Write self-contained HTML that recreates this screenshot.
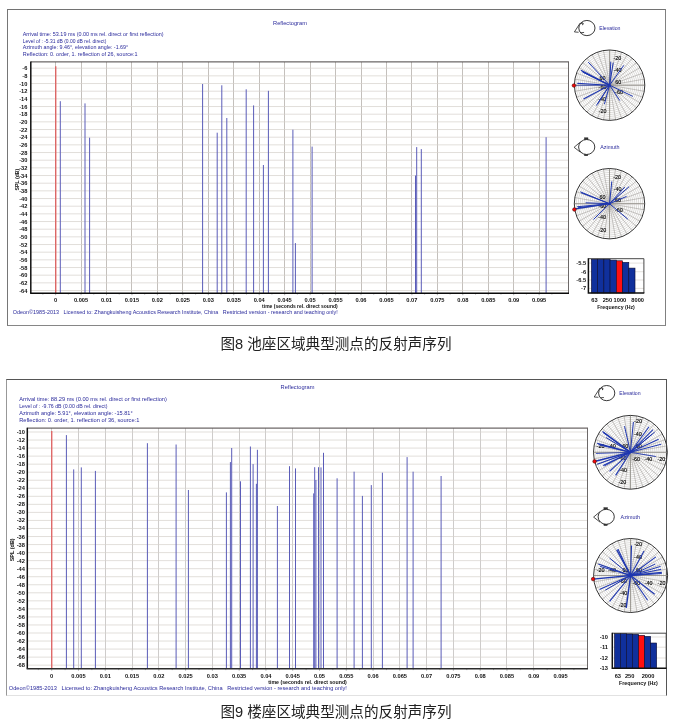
<!DOCTYPE html><html><head><meta charset="utf-8"><title>Reflectogram</title><style>
html,body{margin:0;padding:0;background:#fff;}body{width:674px;height:725px;overflow:hidden;position:relative;font-family:"Liberation Sans","Noto Sans CJK SC",sans-serif;}
svg{position:absolute;left:0;top:0;display:block}
svg text{font-family:"Liberation Sans","Noto Sans CJK SC",sans-serif}
.cap{position:absolute;left:-1px;width:674px;text-align:center;font-size:14.6px;color:#222;white-space:nowrap;line-height:18px}
.t{fill:#2b2b9c;font-size:5.9px}
.ax{fill:#111;font-size:5.7px;font-weight:bold}
.pl{fill:#000;font-size:5.4px;stroke:#000;stroke-width:0.12px}
</style></head><body>
<svg width="674" height="725" viewBox="0 0 674 725">
<path d="M7.0 9.5H666.0" stroke="#727272" stroke-width="1"/>
<path d="M665.5 9.5V326.0" stroke="#808080" stroke-width="1"/>
<path d="M7.0 325.5H665.5" stroke="#868686" stroke-width="1"/>
<path d="M7.5 9.5V325.5" stroke="#767676" stroke-width="1"/>
<path d="M55.5 62V293M81.5 62V293M106.5 62V293M131.5 62V293M157.5 62V293M182.5 62V293M208.5 62V293M233.5 62V293M259.5 62V293M284.5 62V293M310.5 62V293M335.5 62V293M361.5 62V293M386.5 62V293M411.5 62V293M437.5 62V293M462.5 62V293M488.5 62V293M513.5 62V293M539.5 62V293" stroke="#c4c0bc" stroke-width="1" fill="none"/>
<path d="M30.8 68.20H568.5M30.8 75.87H568.5M30.8 83.53H568.5M30.8 91.20H568.5M30.8 98.86H568.5M30.8 106.53H568.5M30.8 114.20H568.5M30.8 121.86H568.5M30.8 129.53H568.5M30.8 137.19H568.5M30.8 144.86H568.5M30.8 152.53H568.5M30.8 160.19H568.5M30.8 167.86H568.5M30.8 175.52H568.5M30.8 183.19H568.5M30.8 190.86H568.5M30.8 198.52H568.5M30.8 206.19H568.5M30.8 213.85H568.5M30.8 221.52H568.5M30.8 229.19H568.5M30.8 236.85H568.5M30.8 244.52H568.5M30.8 252.18H568.5M30.8 259.85H568.5M30.8 267.52H568.5M30.8 275.18H568.5M30.8 282.85H568.5M30.8 290.51H568.5" stroke="#d6d1cb" stroke-width="0.7" fill="none"/>
<line x1="60.3" y1="101.2" x2="60.3" y2="293" stroke="#5a5cb8" stroke-width="1"/>
<line x1="85.0" y1="103.4" x2="85.0" y2="293" stroke="#5a5cb8" stroke-width="1"/>
<line x1="89.6" y1="137.7" x2="89.6" y2="293" stroke="#5a5cb8" stroke-width="1"/>
<line x1="202.6" y1="84.0" x2="202.6" y2="293" stroke="#5a5cb8" stroke-width="1"/>
<line x1="217.2" y1="132.7" x2="217.2" y2="293" stroke="#5a5cb8" stroke-width="1"/>
<line x1="221.8" y1="85.3" x2="221.8" y2="293" stroke="#5a5cb8" stroke-width="1"/>
<line x1="226.8" y1="118.0" x2="226.8" y2="293" stroke="#5a5cb8" stroke-width="1"/>
<line x1="246.2" y1="89.3" x2="246.2" y2="293" stroke="#5a5cb8" stroke-width="1"/>
<line x1="253.6" y1="105.4" x2="253.6" y2="293" stroke="#5a5cb8" stroke-width="1"/>
<line x1="263.4" y1="165" x2="263.4" y2="293" stroke="#5a5cb8" stroke-width="1"/>
<line x1="268.4" y1="90.8" x2="268.4" y2="293" stroke="#5a5cb8" stroke-width="1"/>
<line x1="292.9" y1="129.7" x2="292.9" y2="293" stroke="#5a5cb8" stroke-width="1"/>
<line x1="295.4" y1="243.1" x2="295.4" y2="293" stroke="#5a5cb8" stroke-width="1"/>
<line x1="312.1" y1="146.6" x2="312.1" y2="293" stroke="#5a5cb8" stroke-width="1"/>
<line x1="415.5" y1="175.5" x2="415.5" y2="293" stroke="#5a5cb8" stroke-width="1"/>
<line x1="416.7" y1="147.1" x2="416.7" y2="293" stroke="#5a5cb8" stroke-width="1"/>
<line x1="421.3" y1="149.1" x2="421.3" y2="293" stroke="#5a5cb8" stroke-width="1"/>
<line x1="546.1" y1="137.2" x2="546.1" y2="293" stroke="#5a5cb8" stroke-width="1"/>
<line x1="55.8" y1="66.3" x2="55.8" y2="293" stroke="#e24a4a" stroke-width="1.1"/>
<path d="M30.8 61.9H569.0" stroke="#484242" stroke-width="1" fill="none"/>
<path d="M568.5 62V293" stroke="#5c5858" stroke-width="0.9" fill="none"/>
<path d="M30.8 61.5V293" stroke="#111" stroke-width="1.5" fill="none"/>
<path d="M42.88 293.6v1.0M55.60 293.6v1.6M68.33 293.6v1.0M81.05 293.6v1.6M93.78 293.6v1.0M106.50 293.6v1.6M119.22 293.6v1.0M131.95 293.6v1.6M144.68 293.6v1.0M157.40 293.6v1.6M170.12 293.6v1.0M182.85 293.6v1.6M195.57 293.6v1.0M208.30 293.6v1.6M221.02 293.6v1.0M233.75 293.6v1.6M246.47 293.6v1.0M259.20 293.6v1.6M271.93 293.6v1.0M284.65 293.6v1.6M297.38 293.6v1.0M310.10 293.6v1.6M322.82 293.6v1.0M335.55 293.6v1.6M348.28 293.6v1.0M361.00 293.6v1.6M373.73 293.6v1.0M386.45 293.6v1.6M399.18 293.6v1.0M411.90 293.6v1.6M424.62 293.6v1.0M437.35 293.6v1.6M450.07 293.6v1.0M462.80 293.6v1.6M475.53 293.6v1.0M488.25 293.6v1.6M500.98 293.6v1.0M513.70 293.6v1.6M526.42 293.6v1.0M539.15 293.6v1.6M551.88 293.6v1.0" stroke="#777" stroke-width="0.6" fill="none"/>
<path d="M30.1 293.25H569.0" stroke="#0a0a0a" stroke-width="1.4" fill="none"/>
<text class="ax" x="27.4" y="70.20" text-anchor="end">-6</text>
<text class="ax" x="27.4" y="77.87" text-anchor="end">-8</text>
<text class="ax" x="27.4" y="85.53" text-anchor="end">-10</text>
<text class="ax" x="27.4" y="93.20" text-anchor="end">-12</text>
<text class="ax" x="27.4" y="100.86" text-anchor="end">-14</text>
<text class="ax" x="27.4" y="108.53" text-anchor="end">-16</text>
<text class="ax" x="27.4" y="116.20" text-anchor="end">-18</text>
<text class="ax" x="27.4" y="123.86" text-anchor="end">-20</text>
<text class="ax" x="27.4" y="131.53" text-anchor="end">-22</text>
<text class="ax" x="27.4" y="139.19" text-anchor="end">-24</text>
<text class="ax" x="27.4" y="146.86" text-anchor="end">-26</text>
<text class="ax" x="27.4" y="154.53" text-anchor="end">-28</text>
<text class="ax" x="27.4" y="162.19" text-anchor="end">-30</text>
<text class="ax" x="27.4" y="169.86" text-anchor="end">-32</text>
<text class="ax" x="27.4" y="177.52" text-anchor="end">-34</text>
<text class="ax" x="27.4" y="185.19" text-anchor="end">-36</text>
<text class="ax" x="27.4" y="192.86" text-anchor="end">-38</text>
<text class="ax" x="27.4" y="200.52" text-anchor="end">-40</text>
<text class="ax" x="27.4" y="208.19" text-anchor="end">-42</text>
<text class="ax" x="27.4" y="215.85" text-anchor="end">-44</text>
<text class="ax" x="27.4" y="223.52" text-anchor="end">-46</text>
<text class="ax" x="27.4" y="231.19" text-anchor="end">-48</text>
<text class="ax" x="27.4" y="238.85" text-anchor="end">-50</text>
<text class="ax" x="27.4" y="246.52" text-anchor="end">-52</text>
<text class="ax" x="27.4" y="254.18" text-anchor="end">-54</text>
<text class="ax" x="27.4" y="261.85" text-anchor="end">-56</text>
<text class="ax" x="27.4" y="269.52" text-anchor="end">-58</text>
<text class="ax" x="27.4" y="277.18" text-anchor="end">-60</text>
<text class="ax" x="27.4" y="284.85" text-anchor="end">-62</text>
<text class="ax" x="27.4" y="292.51" text-anchor="end">-64</text>
<text class="ax" transform="translate(19.2,179.6) rotate(-90)" text-anchor="middle" textLength="21.7" lengthAdjust="spacingAndGlyphs">SPL (dB)</text>
<text class="ax" x="55.60" y="301.9" text-anchor="middle">0</text>
<text class="ax" x="81.05" y="301.9" text-anchor="middle">0.005</text>
<text class="ax" x="106.50" y="301.9" text-anchor="middle">0.01</text>
<text class="ax" x="131.95" y="301.9" text-anchor="middle">0.015</text>
<text class="ax" x="157.40" y="301.9" text-anchor="middle">0.02</text>
<text class="ax" x="182.85" y="301.9" text-anchor="middle">0.025</text>
<text class="ax" x="208.30" y="301.9" text-anchor="middle">0.03</text>
<text class="ax" x="233.75" y="301.9" text-anchor="middle">0.035</text>
<text class="ax" x="259.20" y="301.9" text-anchor="middle">0.04</text>
<text class="ax" x="284.65" y="301.9" text-anchor="middle">0.045</text>
<text class="ax" x="310.10" y="301.9" text-anchor="middle">0.05</text>
<text class="ax" x="335.55" y="301.9" text-anchor="middle">0.055</text>
<text class="ax" x="361.00" y="301.9" text-anchor="middle">0.06</text>
<text class="ax" x="386.45" y="301.9" text-anchor="middle">0.065</text>
<text class="ax" x="411.90" y="301.9" text-anchor="middle">0.07</text>
<text class="ax" x="437.35" y="301.9" text-anchor="middle">0.075</text>
<text class="ax" x="462.80" y="301.9" text-anchor="middle">0.08</text>
<text class="ax" x="488.25" y="301.9" text-anchor="middle">0.085</text>
<text class="ax" x="513.70" y="301.9" text-anchor="middle">0.09</text>
<text class="ax" x="539.15" y="301.9" text-anchor="middle">0.095</text>
<text class="ax" x="337.7" y="307.6" text-anchor="end" textLength="75.6" lengthAdjust="spacingAndGlyphs">time (seconds rel. direct sound)</text>
<text class="t" x="12.8" y="313.6" textLength="324.9" lengthAdjust="spacingAndGlyphs" style="font-size:5.6px">Odeon©1985-2013&#160;&#160; Licensed to: Zhangkuisheng Acoustics Research Institute, China&#160;&#160; Restricted version - research and teaching only!</text>
<text class="t" x="290" y="24.6" text-anchor="middle" style="font-size:5.7px">Reflectogram</text>
<text class="t" x="22.7" y="35.80" textLength="140.8" lengthAdjust="spacingAndGlyphs">Arrival time: 53.19 ms (0.00 ms rel. direct or first reflection)</text>
<text class="t" x="22.7" y="42.50" textLength="83.6" lengthAdjust="spacingAndGlyphs">Level of : -5.31 dB (0.00 dB rel. direct)</text>
<text class="t" x="22.7" y="49.20" textLength="105.5" lengthAdjust="spacingAndGlyphs">Azimuth angle: 9.46°, elevation angle: -1.69°</text>
<text class="t" x="22.7" y="55.90" textLength="114.9" lengthAdjust="spacingAndGlyphs">Reflection: 0. order, 1. reflection of 26, source:1</text>
<g>
<circle cx="609.6" cy="85.2" r="3.91" fill="none" stroke="#aaa6a2" stroke-width="0.4"/>
<circle cx="609.6" cy="85.2" r="5.87" fill="none" stroke="#aaa6a2" stroke-width="0.4"/>
<circle cx="609.6" cy="85.2" r="7.82" fill="none" stroke="#aaa6a2" stroke-width="0.4"/>
<circle cx="609.6" cy="85.2" r="9.78" fill="none" stroke="#aaa6a2" stroke-width="0.4"/>
<circle cx="609.6" cy="85.2" r="11.73" fill="none" stroke="#aaa6a2" stroke-width="0.4"/>
<circle cx="609.6" cy="85.2" r="13.69" fill="none" stroke="#aaa6a2" stroke-width="0.4"/>
<circle cx="609.6" cy="85.2" r="15.64" fill="none" stroke="#aaa6a2" stroke-width="0.4"/>
<circle cx="609.6" cy="85.2" r="17.60" fill="none" stroke="#aaa6a2" stroke-width="0.4"/>
<circle cx="609.6" cy="85.2" r="19.56" fill="none" stroke="#aaa6a2" stroke-width="0.4"/>
<circle cx="609.6" cy="85.2" r="21.51" fill="none" stroke="#aaa6a2" stroke-width="0.4"/>
<circle cx="609.6" cy="85.2" r="23.47" fill="none" stroke="#aaa6a2" stroke-width="0.4"/>
<circle cx="609.6" cy="85.2" r="25.42" fill="none" stroke="#aaa6a2" stroke-width="0.4"/>
<circle cx="609.6" cy="85.2" r="27.38" fill="none" stroke="#aaa6a2" stroke-width="0.4"/>
<circle cx="609.6" cy="85.2" r="29.33" fill="none" stroke="#aaa6a2" stroke-width="0.4"/>
<circle cx="609.6" cy="85.2" r="31.29" fill="none" stroke="#aaa6a2" stroke-width="0.4"/>
<circle cx="609.6" cy="85.2" r="33.24" fill="none" stroke="#aaa6a2" stroke-width="0.4"/>
<path d="M611.01 85.20L644.80 85.20M610.99 85.44L644.27 91.31M610.92 85.68L642.68 97.24M610.82 85.90L640.08 102.80M610.68 86.11L636.56 107.83M610.51 86.28L632.23 112.16M610.30 86.42L627.20 115.68M610.08 86.52L621.64 118.28M609.84 86.59L615.71 119.87M609.60 86.61L609.60 120.40M609.36 86.59L603.49 119.87M609.12 86.52L597.56 118.28M608.90 86.42L592.00 115.68M608.69 86.28L586.97 112.16M608.52 86.11L582.64 107.83M608.38 85.90L579.12 102.80M608.28 85.68L576.52 97.24M608.21 85.44L574.93 91.31M608.19 85.20L574.40 85.20M608.21 84.96L574.93 79.09M608.28 84.72L576.52 73.16M608.38 84.50L579.12 67.60M608.52 84.29L582.64 62.57M608.69 84.12L586.97 58.24M608.90 83.98L592.00 54.72M609.12 83.88L597.56 52.12M609.36 83.81L603.49 50.53M609.60 83.79L609.60 50.00M609.84 83.81L615.71 50.53M610.08 83.88L621.64 52.12M610.30 83.98L627.20 54.72M610.51 84.12L632.23 58.24M610.68 84.29L636.56 62.57M610.82 84.50L640.08 67.60M610.92 84.72L642.68 73.16M610.99 84.96L644.27 79.09" stroke="#9c9894" stroke-width="0.55" fill="none"/>
<path d="M574.4 85.2H644.8000000000001M609.6 50.0V120.4" stroke="#8a8680" stroke-width="0.7" fill="none"/>
<circle cx="609.6" cy="85.2" r="35.2" fill="none" stroke="#333" stroke-width="1"/>
<text class="pl" x="617.3" y="60.2" text-anchor="middle">-20</text>
<text class="pl" x="617.6" y="72.1" text-anchor="middle">-40</text>
<text class="pl" x="602.5" y="80.2" text-anchor="middle">60</text>
<text class="pl" x="618.2" y="83.7" text-anchor="middle">60</text>
<text class="pl" x="602.5" y="89.4" text-anchor="middle">-60</text>
<text class="pl" x="619.0" y="93.6" text-anchor="middle">-60</text>
<text class="pl" x="602.2" y="100.7" text-anchor="middle">-40</text>
<text class="pl" x="602.5" y="113.0" text-anchor="middle">-20</text>
<line x1="609.6" y1="85.2" x2="588.2" y2="62.1" stroke="#1f37b0" stroke-width="1.0"/>
<line x1="609.6" y1="85.2" x2="580.9" y2="70.2" stroke="#1f37b0" stroke-width="1.2"/>
<line x1="609.6" y1="85.2" x2="582.1" y2="71.4" stroke="#1f37b0" stroke-width="1.1"/>
<line x1="609.6" y1="85.2" x2="583.2" y2="72.4" stroke="#1f37b0" stroke-width="1.0"/>
<line x1="609.6" y1="85.2" x2="577.3" y2="83.4" stroke="#1f37b0" stroke-width="1.1"/>
<line x1="609.6" y1="85.2" x2="574.3" y2="85.7" stroke="#1f37b0" stroke-width="0.55"/>
<line x1="609.6" y1="85.2" x2="583.5" y2="99.1" stroke="#1f37b0" stroke-width="1.1"/>
<line x1="609.6" y1="85.2" x2="596.3" y2="105.6" stroke="#1f37b0" stroke-width="1.0"/>
<line x1="609.6" y1="85.2" x2="597.7" y2="103.8" stroke="#1f37b0" stroke-width="1.0"/>
<line x1="609.6" y1="85.2" x2="604.4" y2="104.2" stroke="#1f37b0" stroke-width="1.0"/>
<line x1="609.6" y1="85.2" x2="610.8" y2="61.7" stroke="#1f37b0" stroke-width="1.0"/>
<line x1="609.6" y1="85.2" x2="613.2" y2="62.6" stroke="#1f37b0" stroke-width="1.0"/>
<line x1="609.6" y1="85.2" x2="623.8" y2="65.3" stroke="#1f37b0" stroke-width="1.0"/>
<line x1="609.6" y1="85.2" x2="632.9" y2="96.4" stroke="#1f37b0" stroke-width="1.0"/>
<line x1="609.6" y1="85.2" x2="619.8" y2="100.6" stroke="#1f37b0" stroke-width="1.0"/>
<circle cx="609.6" cy="85.2" r="1.3" fill="#1f37b0"/>
<circle cx="573.9" cy="85.5" r="1.8" fill="#ee0a0a" stroke="#4a0808" stroke-width="0.55"/>
</g>
<path d="M580.30 22.85L574.40 31.95L578.60 32.25" fill="#fff" stroke="#222" stroke-width="0.8" stroke-linejoin="round"/>
<ellipse cx="586.9" cy="28.05" rx="8.1" ry="7.6" fill="#fff" stroke="#222" stroke-width="0.9"/>
<path d="M580.90 23.65q1.2 -1.4 2.2 -0.4q0.6 1.2 -0.9 1.6" fill="none" stroke="#111" stroke-width="0.9"/>
<path d="M580.50 32.75L584.10 32.45" fill="none" stroke="#222" stroke-width="0.8"/>
<text class="t" x="599.2" y="30.05" textLength="21.3" lengthAdjust="spacingAndGlyphs" style="font-size:5.6px">Elevation</text>
<g>
<circle cx="609.5" cy="203.7" r="3.91" fill="none" stroke="#aaa6a2" stroke-width="0.4"/>
<circle cx="609.5" cy="203.7" r="5.87" fill="none" stroke="#aaa6a2" stroke-width="0.4"/>
<circle cx="609.5" cy="203.7" r="7.82" fill="none" stroke="#aaa6a2" stroke-width="0.4"/>
<circle cx="609.5" cy="203.7" r="9.78" fill="none" stroke="#aaa6a2" stroke-width="0.4"/>
<circle cx="609.5" cy="203.7" r="11.73" fill="none" stroke="#aaa6a2" stroke-width="0.4"/>
<circle cx="609.5" cy="203.7" r="13.69" fill="none" stroke="#aaa6a2" stroke-width="0.4"/>
<circle cx="609.5" cy="203.7" r="15.64" fill="none" stroke="#aaa6a2" stroke-width="0.4"/>
<circle cx="609.5" cy="203.7" r="17.60" fill="none" stroke="#aaa6a2" stroke-width="0.4"/>
<circle cx="609.5" cy="203.7" r="19.56" fill="none" stroke="#aaa6a2" stroke-width="0.4"/>
<circle cx="609.5" cy="203.7" r="21.51" fill="none" stroke="#aaa6a2" stroke-width="0.4"/>
<circle cx="609.5" cy="203.7" r="23.47" fill="none" stroke="#aaa6a2" stroke-width="0.4"/>
<circle cx="609.5" cy="203.7" r="25.42" fill="none" stroke="#aaa6a2" stroke-width="0.4"/>
<circle cx="609.5" cy="203.7" r="27.38" fill="none" stroke="#aaa6a2" stroke-width="0.4"/>
<circle cx="609.5" cy="203.7" r="29.33" fill="none" stroke="#aaa6a2" stroke-width="0.4"/>
<circle cx="609.5" cy="203.7" r="31.29" fill="none" stroke="#aaa6a2" stroke-width="0.4"/>
<circle cx="609.5" cy="203.7" r="33.24" fill="none" stroke="#aaa6a2" stroke-width="0.4"/>
<path d="M610.91 203.70L644.70 203.70M610.89 203.94L644.17 209.81M610.82 204.18L642.58 215.74M610.72 204.40L639.98 221.30M610.58 204.61L636.46 226.33M610.41 204.78L632.13 230.66M610.20 204.92L627.10 234.18M609.98 205.02L621.54 236.78M609.74 205.09L615.61 238.37M609.50 205.11L609.50 238.90M609.26 205.09L603.39 238.37M609.02 205.02L597.46 236.78M608.80 204.92L591.90 234.18M608.59 204.78L586.87 230.66M608.42 204.61L582.54 226.33M608.28 204.40L579.02 221.30M608.18 204.18L576.42 215.74M608.11 203.94L574.83 209.81M608.09 203.70L574.30 203.70M608.11 203.46L574.83 197.59M608.18 203.22L576.42 191.66M608.28 203.00L579.02 186.10M608.42 202.79L582.54 181.07M608.59 202.62L586.87 176.74M608.80 202.48L591.90 173.22M609.02 202.38L597.46 170.62M609.26 202.31L603.39 169.03M609.50 202.29L609.50 168.50M609.74 202.31L615.61 169.03M609.98 202.38L621.54 170.62M610.20 202.48L627.10 173.22M610.41 202.62L632.13 176.74M610.58 202.79L636.46 181.07M610.72 203.00L639.98 186.10M610.82 203.22L642.58 191.66M610.89 203.46L644.17 197.59" stroke="#9c9894" stroke-width="0.55" fill="none"/>
<path d="M574.3 203.7H644.7M609.5 168.5V238.89999999999998" stroke="#8a8680" stroke-width="0.7" fill="none"/>
<circle cx="609.5" cy="203.7" r="35.2" fill="none" stroke="#333" stroke-width="1"/>
<text class="pl" x="617.2" y="178.7" text-anchor="middle">-20</text>
<text class="pl" x="617.5" y="190.6" text-anchor="middle">-40</text>
<text class="pl" x="602.4" y="198.7" text-anchor="middle">60</text>
<text class="pl" x="618.1" y="202.2" text-anchor="middle">60</text>
<text class="pl" x="602.4" y="207.9" text-anchor="middle">-60</text>
<text class="pl" x="618.9" y="212.1" text-anchor="middle">-60</text>
<text class="pl" x="602.1" y="219.2" text-anchor="middle">-40</text>
<text class="pl" x="602.4" y="231.5" text-anchor="middle">-20</text>
<line x1="609.5" y1="203.7" x2="611.8" y2="181.4" stroke="#1f37b0" stroke-width="1.0"/>
<line x1="609.5" y1="203.7" x2="624.8" y2="187.1" stroke="#1f37b0" stroke-width="1.0"/>
<line x1="609.5" y1="203.7" x2="629.1" y2="186.6" stroke="#1f37b0" stroke-width="1.0"/>
<line x1="609.5" y1="203.7" x2="626.6" y2="196.4" stroke="#1f37b0" stroke-width="1.0"/>
<line x1="609.5" y1="203.7" x2="627.8" y2="219.2" stroke="#1f37b0" stroke-width="1.0"/>
<line x1="609.5" y1="203.7" x2="593.5" y2="219.5" stroke="#1f37b0" stroke-width="1.0"/>
<line x1="609.5" y1="203.7" x2="580.3" y2="191.8" stroke="#1f37b0" stroke-width="1.0"/>
<line x1="609.5" y1="203.7" x2="581.0" y2="192.7" stroke="#1f37b0" stroke-width="1.0"/>
<line x1="609.5" y1="203.7" x2="585.6" y2="202.8" stroke="#1f37b0" stroke-width="1.0"/>
<line x1="609.5" y1="203.7" x2="577.1" y2="206.7" stroke="#1f37b0" stroke-width="1.1"/>
<line x1="609.5" y1="203.7" x2="575.0" y2="208.9" stroke="#1f37b0" stroke-width="1.1"/>
<line x1="609.5" y1="203.7" x2="578.0" y2="207.8" stroke="#1f37b0" stroke-width="1.0"/>
<circle cx="609.5" cy="203.7" r="1.3" fill="#1f37b0"/>
<circle cx="574.4" cy="209.5" r="1.8" fill="#ee0a0a" stroke="#4a0808" stroke-width="0.55"/>
</g>
<path d="M580.70 141.70L574.10 147.30L580.50 152.30" fill="#fff" stroke="#222" stroke-width="0.8" stroke-linejoin="round"/>
<rect x="584.40" y="137.80" width="3.6" height="2.2" fill="#333" stroke="#222" stroke-width="0.4"/>
<rect x="584.40" y="153.90" width="3.4" height="1.9" fill="#333" stroke="#222" stroke-width="0.4"/>
<ellipse cx="586.7" cy="147.0" rx="8.1" ry="7.5" fill="#fff" stroke="#222" stroke-width="0.9"/>
<text class="t" x="600.2" y="148.9" textLength="19.4" lengthAdjust="spacingAndGlyphs" style="font-size:5.6px">Azimuth</text>
<rect x="588.4" y="258.7" width="55.5" height="34.30000000000001" fill="#fff" stroke="none"/>
<path d="M588.4 263.1H643.9" stroke="#d8d4ce" stroke-width="0.7"/>
<path d="M588.4 271.7H643.9" stroke="#d8d4ce" stroke-width="0.7"/>
<path d="M588.4 280H643.9" stroke="#d8d4ce" stroke-width="0.7"/>
<path d="M588.4 288.4H643.9" stroke="#d8d4ce" stroke-width="0.7"/>
<rect x="591.40" y="259.2" width="6.23" height="33.80" fill="#10309c" stroke="#0a0a30" stroke-width="0.6"/>
<rect x="597.63" y="259.2" width="6.23" height="33.80" fill="#10309c" stroke="#0a0a30" stroke-width="0.6"/>
<rect x="603.86" y="259.2" width="6.23" height="33.80" fill="#10309c" stroke="#0a0a30" stroke-width="0.6"/>
<rect x="610.09" y="260.1" width="6.23" height="32.90" fill="#10309c" stroke="#0a0a30" stroke-width="0.6"/>
<rect x="616.32" y="260.8" width="6.23" height="32.20" fill="#ff1010" stroke="#0a0a30" stroke-width="0.6"/>
<rect x="622.55" y="262.4" width="6.23" height="30.60" fill="#10309c" stroke="#0a0a30" stroke-width="0.6"/>
<rect x="628.78" y="268.1" width="6.23" height="24.90" fill="#10309c" stroke="#0a0a30" stroke-width="0.6"/>
<path d="M588.4 258.7H643.9V293" stroke="#333" stroke-width="0.9" fill="none"/>
<path d="M588.4 258.3V293H644.3" stroke="#111" stroke-width="1.5" fill="none"/>
<text class="ax" x="586.1" y="265.1" text-anchor="end">-5.5</text>
<text class="ax" x="586.1" y="273.7" text-anchor="end">-6</text>
<text class="ax" x="586.1" y="282" text-anchor="end">-6.5</text>
<text class="ax" x="586.1" y="290.4" text-anchor="end">-7</text>
<text class="ax" x="594.4" y="301.6" text-anchor="middle">63</text>
<text class="ax" x="607.4" y="301.6" text-anchor="middle">250</text>
<text class="ax" x="619.9" y="301.6" text-anchor="middle">1000</text>
<text class="ax" x="637.7" y="301.6" text-anchor="middle">8000</text>
<text class="ax" x="616" y="308.8" text-anchor="middle" textLength="37.7" lengthAdjust="spacingAndGlyphs">Frequency (Hz)</text>
<path d="M6.0 379.5H667.0" stroke="#555" stroke-width="1"/>
<path d="M666.5 379.5V696.0" stroke="#555" stroke-width="1"/>
<path d="M6.0 695.5H666.5" stroke="#e2e2e2" stroke-width="1"/>
<path d="M6.5 379.5V695.5" stroke="#989898" stroke-width="1"/>
<path d="M51.5 428.2V668.5M78.5 428.2V668.5M105.5 428.2V668.5M132.5 428.2V668.5M158.5 428.2V668.5M185.5 428.2V668.5M212.5 428.2V668.5M239.5 428.2V668.5M265.5 428.2V668.5M292.5 428.2V668.5M319.5 428.2V668.5M346.5 428.2V668.5M373.5 428.2V668.5M399.5 428.2V668.5M426.5 428.2V668.5M453.5 428.2V668.5M480.5 428.2V668.5M506.5 428.2V668.5M533.5 428.2V668.5M560.5 428.2V668.5" stroke="#cecccb" stroke-width="1" fill="none"/>
<path d="M27.3 432.00H587.5M27.3 440.04H587.5M27.3 448.08H587.5M27.3 456.12H587.5M27.3 464.16H587.5M27.3 472.20H587.5M27.3 480.24H587.5M27.3 488.28H587.5M27.3 496.32H587.5M27.3 504.36H587.5M27.3 512.40H587.5M27.3 520.44H587.5M27.3 528.48H587.5M27.3 536.52H587.5M27.3 544.56H587.5M27.3 552.60H587.5M27.3 560.64H587.5M27.3 568.68H587.5M27.3 576.72H587.5M27.3 584.76H587.5M27.3 592.80H587.5M27.3 600.84H587.5M27.3 608.88H587.5M27.3 616.92H587.5M27.3 624.96H587.5M27.3 633.00H587.5M27.3 641.04H587.5M27.3 649.08H587.5M27.3 657.12H587.5M27.3 665.16H587.5" stroke="#d6d1cb" stroke-width="0.7" fill="none"/>
<line x1="66.4" y1="435.1" x2="66.4" y2="668.5" stroke="#5a5cb8" stroke-width="1"/>
<line x1="73.7" y1="469.4" x2="73.7" y2="668.5" stroke="#5a5cb8" stroke-width="1"/>
<line x1="81.3" y1="467.4" x2="81.3" y2="668.5" stroke="#5a5cb8" stroke-width="1"/>
<line x1="95.4" y1="470.9" x2="95.4" y2="668.5" stroke="#5a5cb8" stroke-width="1"/>
<line x1="147.4" y1="443.2" x2="147.4" y2="668.5" stroke="#5a5cb8" stroke-width="1"/>
<line x1="176.1" y1="444.5" x2="176.1" y2="668.5" stroke="#5a5cb8" stroke-width="1"/>
<line x1="188.4" y1="490" x2="188.4" y2="668.5" stroke="#5a5cb8" stroke-width="1"/>
<line x1="226.4" y1="492.4" x2="226.4" y2="668.5" stroke="#5a5cb8" stroke-width="1"/>
<line x1="230.4" y1="462.1" x2="230.4" y2="668.5" stroke="#5a5cb8" stroke-width="1"/>
<line x1="231.7" y1="448.0" x2="231.7" y2="668.5" stroke="#5a5cb8" stroke-width="1"/>
<line x1="240.5" y1="481.3" x2="240.5" y2="668.5" stroke="#5a5cb8" stroke-width="1"/>
<line x1="250.4" y1="446.5" x2="250.4" y2="668.5" stroke="#5a5cb8" stroke-width="1"/>
<line x1="253.1" y1="464.1" x2="253.1" y2="668.5" stroke="#5a5cb8" stroke-width="1"/>
<line x1="256.4" y1="483.8" x2="256.4" y2="668.5" stroke="#5a5cb8" stroke-width="1"/>
<line x1="257.4" y1="449.8" x2="257.4" y2="668.5" stroke="#5a5cb8" stroke-width="1"/>
<line x1="277.4" y1="506" x2="277.4" y2="668.5" stroke="#5a5cb8" stroke-width="1"/>
<line x1="289.5" y1="466.2" x2="289.5" y2="668.5" stroke="#5a5cb8" stroke-width="1"/>
<line x1="295.5" y1="468.4" x2="295.5" y2="668.5" stroke="#5a5cb8" stroke-width="1"/>
<line x1="313.7" y1="493.4" x2="313.7" y2="668.5" stroke="#5a5cb8" stroke-width="1"/>
<line x1="314.7" y1="467.2" x2="314.7" y2="668.5" stroke="#5a5cb8" stroke-width="1"/>
<line x1="315.9" y1="480" x2="315.9" y2="668.5" stroke="#5a5cb8" stroke-width="1"/>
<line x1="318.5" y1="467.2" x2="318.5" y2="668.5" stroke="#5a5cb8" stroke-width="1"/>
<line x1="321" y1="467.4" x2="321" y2="668.5" stroke="#5a5cb8" stroke-width="1"/>
<line x1="323.5" y1="452.8" x2="323.5" y2="668.5" stroke="#5a5cb8" stroke-width="1"/>
<line x1="337.1" y1="478.3" x2="337.1" y2="668.5" stroke="#5a5cb8" stroke-width="1"/>
<line x1="354.1" y1="471.7" x2="354.1" y2="668.5" stroke="#5a5cb8" stroke-width="1"/>
<line x1="362.4" y1="495.9" x2="362.4" y2="668.5" stroke="#5a5cb8" stroke-width="1"/>
<line x1="371.3" y1="485.1" x2="371.3" y2="668.5" stroke="#5a5cb8" stroke-width="1"/>
<line x1="382.4" y1="472.7" x2="382.4" y2="668.5" stroke="#5a5cb8" stroke-width="1"/>
<line x1="407.1" y1="457.1" x2="407.1" y2="668.5" stroke="#5a5cb8" stroke-width="1"/>
<line x1="413.1" y1="471.7" x2="413.1" y2="668.5" stroke="#5a5cb8" stroke-width="1"/>
<line x1="441.1" y1="476" x2="441.1" y2="668.5" stroke="#5a5cb8" stroke-width="1"/>
<line x1="51.8" y1="431.1" x2="51.8" y2="668.5" stroke="#e24a4a" stroke-width="1.1"/>
<path d="M27.3 428.09999999999997H588.0" stroke="#484242" stroke-width="1" fill="none"/>
<path d="M587.5 428.2V668.5" stroke="#5c5858" stroke-width="0.9" fill="none"/>
<path d="M27.3 427.7V668.5" stroke="#111" stroke-width="1.5" fill="none"/>
<path d="M38.31 669.1v1.0M51.70 669.1v1.6M65.09 669.1v1.0M78.48 669.1v1.6M91.87 669.1v1.0M105.26 669.1v1.6M118.65 669.1v1.0M132.04 669.1v1.6M145.43 669.1v1.0M158.82 669.1v1.6M172.21 669.1v1.0M185.60 669.1v1.6M198.99 669.1v1.0M212.38 669.1v1.6M225.77 669.1v1.0M239.16 669.1v1.6M252.55 669.1v1.0M265.94 669.1v1.6M279.33 669.1v1.0M292.72 669.1v1.6M306.11 669.1v1.0M319.50 669.1v1.6M332.89 669.1v1.0M346.28 669.1v1.6M359.67 669.1v1.0M373.06 669.1v1.6M386.45 669.1v1.0M399.84 669.1v1.6M413.23 669.1v1.0M426.62 669.1v1.6M440.01 669.1v1.0M453.40 669.1v1.6M466.79 669.1v1.0M480.18 669.1v1.6M493.57 669.1v1.0M506.96 669.1v1.6M520.35 669.1v1.0M533.74 669.1v1.6M547.13 669.1v1.0M560.52 669.1v1.6M573.91 669.1v1.0" stroke="#777" stroke-width="0.6" fill="none"/>
<path d="M26.6 668.75H588.0" stroke="#2c2c2c" stroke-width="1.4" fill="none"/>
<text class="ax" x="24.9" y="434.00" text-anchor="end">-10</text>
<text class="ax" x="24.9" y="442.04" text-anchor="end">-12</text>
<text class="ax" x="24.9" y="450.08" text-anchor="end">-14</text>
<text class="ax" x="24.9" y="458.12" text-anchor="end">-16</text>
<text class="ax" x="24.9" y="466.16" text-anchor="end">-18</text>
<text class="ax" x="24.9" y="474.20" text-anchor="end">-20</text>
<text class="ax" x="24.9" y="482.24" text-anchor="end">-22</text>
<text class="ax" x="24.9" y="490.28" text-anchor="end">-24</text>
<text class="ax" x="24.9" y="498.32" text-anchor="end">-26</text>
<text class="ax" x="24.9" y="506.36" text-anchor="end">-28</text>
<text class="ax" x="24.9" y="514.40" text-anchor="end">-30</text>
<text class="ax" x="24.9" y="522.44" text-anchor="end">-32</text>
<text class="ax" x="24.9" y="530.48" text-anchor="end">-34</text>
<text class="ax" x="24.9" y="538.52" text-anchor="end">-36</text>
<text class="ax" x="24.9" y="546.56" text-anchor="end">-38</text>
<text class="ax" x="24.9" y="554.60" text-anchor="end">-40</text>
<text class="ax" x="24.9" y="562.64" text-anchor="end">-42</text>
<text class="ax" x="24.9" y="570.68" text-anchor="end">-44</text>
<text class="ax" x="24.9" y="578.72" text-anchor="end">-46</text>
<text class="ax" x="24.9" y="586.76" text-anchor="end">-48</text>
<text class="ax" x="24.9" y="594.80" text-anchor="end">-50</text>
<text class="ax" x="24.9" y="602.84" text-anchor="end">-52</text>
<text class="ax" x="24.9" y="610.88" text-anchor="end">-54</text>
<text class="ax" x="24.9" y="618.92" text-anchor="end">-56</text>
<text class="ax" x="24.9" y="626.96" text-anchor="end">-58</text>
<text class="ax" x="24.9" y="635.00" text-anchor="end">-60</text>
<text class="ax" x="24.9" y="643.04" text-anchor="end">-62</text>
<text class="ax" x="24.9" y="651.08" text-anchor="end">-64</text>
<text class="ax" x="24.9" y="659.12" text-anchor="end">-66</text>
<text class="ax" x="24.9" y="667.16" text-anchor="end">-68</text>
<text class="ax" transform="translate(13.8,549.8) rotate(-90)" text-anchor="middle" textLength="23" lengthAdjust="spacingAndGlyphs">SPL (dB)</text>
<text class="ax" x="51.70" y="677.8" text-anchor="middle">0</text>
<text class="ax" x="78.48" y="677.8" text-anchor="middle">0.005</text>
<text class="ax" x="105.26" y="677.8" text-anchor="middle">0.01</text>
<text class="ax" x="132.04" y="677.8" text-anchor="middle">0.015</text>
<text class="ax" x="158.82" y="677.8" text-anchor="middle">0.02</text>
<text class="ax" x="185.60" y="677.8" text-anchor="middle">0.025</text>
<text class="ax" x="212.38" y="677.8" text-anchor="middle">0.03</text>
<text class="ax" x="239.16" y="677.8" text-anchor="middle">0.035</text>
<text class="ax" x="265.94" y="677.8" text-anchor="middle">0.04</text>
<text class="ax" x="292.72" y="677.8" text-anchor="middle">0.045</text>
<text class="ax" x="319.50" y="677.8" text-anchor="middle">0.05</text>
<text class="ax" x="346.28" y="677.8" text-anchor="middle">0.055</text>
<text class="ax" x="373.06" y="677.8" text-anchor="middle">0.06</text>
<text class="ax" x="399.84" y="677.8" text-anchor="middle">0.065</text>
<text class="ax" x="426.62" y="677.8" text-anchor="middle">0.07</text>
<text class="ax" x="453.40" y="677.8" text-anchor="middle">0.075</text>
<text class="ax" x="480.18" y="677.8" text-anchor="middle">0.08</text>
<text class="ax" x="506.96" y="677.8" text-anchor="middle">0.085</text>
<text class="ax" x="533.74" y="677.8" text-anchor="middle">0.09</text>
<text class="ax" x="560.52" y="677.8" text-anchor="middle">0.095</text>
<text class="ax" x="346.8" y="684.4" text-anchor="end" textLength="78.5" lengthAdjust="spacingAndGlyphs">time (seconds rel. direct sound)</text>
<text class="t" x="8.8" y="689.7" textLength="338.0" lengthAdjust="spacingAndGlyphs" style="font-size:5.6px">Odeon©1985-2013&#160;&#160; Licensed to: Zhangkuisheng Acoustics Research Institute, China&#160;&#160; Restricted version - research and teaching only!</text>
<text class="t" x="297.5" y="389.4" text-anchor="middle" style="font-size:5.7px">Reflectogram</text>
<text class="t" x="19.2" y="400.80" textLength="147.7" lengthAdjust="spacingAndGlyphs">Arrival time: 88.29 ms (0.00 ms rel. direct or first reflection)</text>
<text class="t" x="19.2" y="408.00" textLength="88.2" lengthAdjust="spacingAndGlyphs">Level of : -9.76 dB (0.00 dB rel. direct)</text>
<text class="t" x="19.2" y="415.20" textLength="113.5" lengthAdjust="spacingAndGlyphs">Azimuth angle: 5.91°, elevation angle: -15.81°</text>
<text class="t" x="19.2" y="422.40" textLength="120.2" lengthAdjust="spacingAndGlyphs">Reflection: 0. order, 1. reflection of 36, source:1</text>
<g>
<circle cx="630.4" cy="452.3" r="4.10" fill="none" stroke="#aaa6a2" stroke-width="0.4"/>
<circle cx="630.4" cy="452.3" r="6.15" fill="none" stroke="#aaa6a2" stroke-width="0.4"/>
<circle cx="630.4" cy="452.3" r="8.20" fill="none" stroke="#aaa6a2" stroke-width="0.4"/>
<circle cx="630.4" cy="452.3" r="10.25" fill="none" stroke="#aaa6a2" stroke-width="0.4"/>
<circle cx="630.4" cy="452.3" r="12.30" fill="none" stroke="#aaa6a2" stroke-width="0.4"/>
<circle cx="630.4" cy="452.3" r="14.35" fill="none" stroke="#aaa6a2" stroke-width="0.4"/>
<circle cx="630.4" cy="452.3" r="16.40" fill="none" stroke="#aaa6a2" stroke-width="0.4"/>
<circle cx="630.4" cy="452.3" r="18.45" fill="none" stroke="#aaa6a2" stroke-width="0.4"/>
<circle cx="630.4" cy="452.3" r="20.50" fill="none" stroke="#aaa6a2" stroke-width="0.4"/>
<circle cx="630.4" cy="452.3" r="22.55" fill="none" stroke="#aaa6a2" stroke-width="0.4"/>
<circle cx="630.4" cy="452.3" r="24.60" fill="none" stroke="#aaa6a2" stroke-width="0.4"/>
<circle cx="630.4" cy="452.3" r="26.65" fill="none" stroke="#aaa6a2" stroke-width="0.4"/>
<circle cx="630.4" cy="452.3" r="28.70" fill="none" stroke="#aaa6a2" stroke-width="0.4"/>
<circle cx="630.4" cy="452.3" r="30.75" fill="none" stroke="#aaa6a2" stroke-width="0.4"/>
<circle cx="630.4" cy="452.3" r="32.80" fill="none" stroke="#aaa6a2" stroke-width="0.4"/>
<circle cx="630.4" cy="452.3" r="34.85" fill="none" stroke="#aaa6a2" stroke-width="0.4"/>
<path d="M631.88 452.30L667.30 452.30M631.85 452.56L666.74 458.71M631.79 452.80L665.07 464.92M631.68 453.04L662.36 470.75M631.53 453.25L658.67 476.02M631.35 453.43L654.12 480.57M631.14 453.58L648.85 484.26M630.90 453.69L643.02 486.97M630.66 453.75L636.81 488.64M630.40 453.78L630.40 489.20M630.14 453.75L623.99 488.64M629.90 453.69L617.78 486.97M629.66 453.58L611.95 484.26M629.45 453.43L606.68 480.57M629.27 453.25L602.13 476.02M629.12 453.04L598.44 470.75M629.01 452.80L595.73 464.92M628.95 452.56L594.06 458.71M628.92 452.30L593.50 452.30M628.95 452.04L594.06 445.89M629.01 451.80L595.73 439.68M629.12 451.56L598.44 433.85M629.27 451.35L602.13 428.58M629.45 451.17L606.68 424.03M629.66 451.02L611.95 420.34M629.90 450.91L617.78 417.63M630.14 450.85L623.99 415.96M630.40 450.82L630.40 415.40M630.66 450.85L636.81 415.96M630.90 450.91L643.02 417.63M631.14 451.02L648.85 420.34M631.35 451.17L654.12 424.03M631.53 451.35L658.67 428.58M631.68 451.56L662.36 433.85M631.79 451.80L665.07 439.68M631.85 452.04L666.74 445.89" stroke="#9c9894" stroke-width="0.55" fill="none"/>
<path d="M593.5 452.3H667.3M630.4 415.40000000000003V489.2" stroke="#8a8680" stroke-width="0.7" fill="none"/>
<circle cx="630.4" cy="452.3" r="36.9" fill="none" stroke="#333" stroke-width="1"/>
<text class="pl" x="638.0" y="422.9" text-anchor="middle">-20</text>
<text class="pl" x="637.8" y="435.7" text-anchor="middle">-40</text>
<text class="pl" x="625.3" y="448.4" text-anchor="middle">60</text>
<text class="pl" x="638.8" y="448.4" text-anchor="middle">60</text>
<text class="pl" x="611.9" y="448.4" text-anchor="middle">-40</text>
<text class="pl" x="600.5" y="448.3" text-anchor="middle">-20</text>
<text class="pl" x="622.6" y="459.8" text-anchor="middle">-60</text>
<text class="pl" x="636.1" y="461.3" text-anchor="middle">-60</text>
<text class="pl" x="648.4" y="461.3" text-anchor="middle">-40</text>
<text class="pl" x="661.3" y="461.3" text-anchor="middle">-20</text>
<text class="pl" x="623.2" y="471.7" text-anchor="middle">-40</text>
<text class="pl" x="622.4" y="484.1" text-anchor="middle">-20</text>
<line x1="630.4" y1="452.3" x2="602.5" y2="431.5" stroke="#1f37b0" stroke-width="1.3"/>
<line x1="630.4" y1="452.3" x2="603.7" y2="432.7" stroke="#1f37b0" stroke-width="1.1"/>
<line x1="630.4" y1="452.3" x2="606.1" y2="437.5" stroke="#1f37b0" stroke-width="1.0"/>
<line x1="630.4" y1="452.3" x2="597.2" y2="443.4" stroke="#1f37b0" stroke-width="1.3"/>
<line x1="630.4" y1="452.3" x2="598.9" y2="444.6" stroke="#1f37b0" stroke-width="1.1"/>
<line x1="630.4" y1="452.3" x2="596.0" y2="453.5" stroke="#1f37b0" stroke-width="0.8"/>
<line x1="630.4" y1="452.3" x2="595.4" y2="461.2" stroke="#1f37b0" stroke-width="1.4"/>
<line x1="630.4" y1="452.3" x2="597.2" y2="464.2" stroke="#1f37b0" stroke-width="1.1"/>
<line x1="630.4" y1="452.3" x2="603.1" y2="465.4" stroke="#1f37b0" stroke-width="1.1"/>
<line x1="630.4" y1="452.3" x2="604.3" y2="465.9" stroke="#1f37b0" stroke-width="1.0"/>
<line x1="630.4" y1="452.3" x2="609.6" y2="471.3" stroke="#1f37b0" stroke-width="1.1"/>
<line x1="630.4" y1="452.3" x2="615.6" y2="475.4" stroke="#1f37b0" stroke-width="1.1"/>
<line x1="630.4" y1="452.3" x2="624.5" y2="426.2" stroke="#1f37b0" stroke-width="1.0"/>
<line x1="630.4" y1="452.3" x2="633.4" y2="422.0" stroke="#1f37b0" stroke-width="1.0"/>
<line x1="630.4" y1="452.3" x2="649.0" y2="426.8" stroke="#1f37b0" stroke-width="1.1"/>
<line x1="630.4" y1="452.3" x2="653.0" y2="429.7" stroke="#1f37b0" stroke-width="1.1"/>
<line x1="630.4" y1="452.3" x2="654.7" y2="432.1" stroke="#1f37b0" stroke-width="1.0"/>
<line x1="630.4" y1="452.3" x2="651.8" y2="434.5" stroke="#1f37b0" stroke-width="1.0"/>
<line x1="630.4" y1="452.3" x2="658.6" y2="439.2" stroke="#1f37b0" stroke-width="1.1"/>
<line x1="630.4" y1="452.3" x2="661.3" y2="444.2" stroke="#1f37b0" stroke-width="1.0"/>
<line x1="630.4" y1="452.3" x2="655.9" y2="456.5" stroke="#1f37b0" stroke-width="0.8999999999999999"/>
<circle cx="630.4" cy="452.3" r="1.3" fill="#1f37b0"/>
<circle cx="594.6" cy="461.4" r="1.8" fill="#ee0a0a" stroke="#4a0808" stroke-width="0.55"/>
</g>
<path d="M600.10 387.90L594.20 397.00L598.40 397.30" fill="#fff" stroke="#222" stroke-width="0.8" stroke-linejoin="round"/>
<ellipse cx="606.7" cy="393.1" rx="8.1" ry="7.6" fill="#fff" stroke="#222" stroke-width="0.9"/>
<path d="M600.70 388.70q1.2 -1.4 2.2 -0.4q0.6 1.2 -0.9 1.6" fill="none" stroke="#111" stroke-width="0.9"/>
<path d="M600.30 397.80L603.90 397.50" fill="none" stroke="#222" stroke-width="0.8"/>
<text class="t" x="619.3" y="395.1" textLength="21.3" lengthAdjust="spacingAndGlyphs" style="font-size:5.6px">Elevation</text>
<g>
<circle cx="630.6" cy="575.5" r="4.11" fill="none" stroke="#aaa6a2" stroke-width="0.4"/>
<circle cx="630.6" cy="575.5" r="6.17" fill="none" stroke="#aaa6a2" stroke-width="0.4"/>
<circle cx="630.6" cy="575.5" r="8.22" fill="none" stroke="#aaa6a2" stroke-width="0.4"/>
<circle cx="630.6" cy="575.5" r="10.28" fill="none" stroke="#aaa6a2" stroke-width="0.4"/>
<circle cx="630.6" cy="575.5" r="12.33" fill="none" stroke="#aaa6a2" stroke-width="0.4"/>
<circle cx="630.6" cy="575.5" r="14.39" fill="none" stroke="#aaa6a2" stroke-width="0.4"/>
<circle cx="630.6" cy="575.5" r="16.44" fill="none" stroke="#aaa6a2" stroke-width="0.4"/>
<circle cx="630.6" cy="575.5" r="18.50" fill="none" stroke="#aaa6a2" stroke-width="0.4"/>
<circle cx="630.6" cy="575.5" r="20.56" fill="none" stroke="#aaa6a2" stroke-width="0.4"/>
<circle cx="630.6" cy="575.5" r="22.61" fill="none" stroke="#aaa6a2" stroke-width="0.4"/>
<circle cx="630.6" cy="575.5" r="24.67" fill="none" stroke="#aaa6a2" stroke-width="0.4"/>
<circle cx="630.6" cy="575.5" r="26.72" fill="none" stroke="#aaa6a2" stroke-width="0.4"/>
<circle cx="630.6" cy="575.5" r="28.78" fill="none" stroke="#aaa6a2" stroke-width="0.4"/>
<circle cx="630.6" cy="575.5" r="30.83" fill="none" stroke="#aaa6a2" stroke-width="0.4"/>
<circle cx="630.6" cy="575.5" r="32.89" fill="none" stroke="#aaa6a2" stroke-width="0.4"/>
<circle cx="630.6" cy="575.5" r="34.94" fill="none" stroke="#aaa6a2" stroke-width="0.4"/>
<path d="M632.08 575.50L667.60 575.50M632.06 575.76L667.04 581.92M631.99 576.01L665.37 588.15M631.88 576.24L662.64 594.00M631.73 576.45L658.94 599.28M631.55 576.63L654.38 603.84M631.34 576.78L649.10 607.54M631.11 576.89L643.25 610.27M630.86 576.96L637.02 611.94M630.60 576.98L630.60 612.50M630.34 576.96L624.18 611.94M630.09 576.89L617.95 610.27M629.86 576.78L612.10 607.54M629.65 576.63L606.82 603.84M629.47 576.45L602.26 599.28M629.32 576.24L598.56 594.00M629.21 576.01L595.83 588.15M629.14 575.76L594.16 581.92M629.12 575.50L593.60 575.50M629.14 575.24L594.16 569.08M629.21 574.99L595.83 562.85M629.32 574.76L598.56 557.00M629.47 574.55L602.26 551.72M629.65 574.37L606.82 547.16M629.86 574.22L612.10 543.46M630.09 574.11L617.95 540.73M630.34 574.04L624.18 539.06M630.60 574.02L630.60 538.50M630.86 574.04L637.02 539.06M631.11 574.11L643.25 540.73M631.34 574.22L649.10 543.46M631.55 574.37L654.38 547.16M631.73 574.55L658.94 551.72M631.88 574.76L662.64 557.00M631.99 574.99L665.37 562.85M632.06 575.24L667.04 569.08" stroke="#9c9894" stroke-width="0.55" fill="none"/>
<path d="M593.6 575.5H667.6M630.6 538.5V612.5" stroke="#8a8680" stroke-width="0.7" fill="none"/>
<circle cx="630.6" cy="575.5" r="37.0" fill="none" stroke="#333" stroke-width="1"/>
<text class="pl" x="638.2" y="546.1" text-anchor="middle">-20</text>
<text class="pl" x="638.0" y="558.9" text-anchor="middle">-40</text>
<text class="pl" x="625.5" y="571.6" text-anchor="middle">60</text>
<text class="pl" x="639.0" y="571.6" text-anchor="middle">60</text>
<text class="pl" x="612.1" y="571.6" text-anchor="middle">-40</text>
<text class="pl" x="600.7" y="571.5" text-anchor="middle">-20</text>
<text class="pl" x="622.8" y="583.0" text-anchor="middle">-60</text>
<text class="pl" x="636.3" y="584.5" text-anchor="middle">-60</text>
<text class="pl" x="648.6" y="584.5" text-anchor="middle">-40</text>
<text class="pl" x="661.5" y="584.5" text-anchor="middle">-20</text>
<text class="pl" x="623.4" y="594.9" text-anchor="middle">-40</text>
<text class="pl" x="622.6" y="607.3" text-anchor="middle">-20</text>
<line x1="630.6" y1="575.5" x2="616.7" y2="549.7" stroke="#1f37b0" stroke-width="1.3"/>
<line x1="630.6" y1="575.5" x2="617.9" y2="549.1" stroke="#1f37b0" stroke-width="1.1"/>
<line x1="630.6" y1="575.5" x2="609.6" y2="558.1" stroke="#1f37b0" stroke-width="1.0"/>
<line x1="630.6" y1="575.5" x2="598.3" y2="564.0" stroke="#1f37b0" stroke-width="1.3"/>
<line x1="630.6" y1="575.5" x2="600.1" y2="566.4" stroke="#1f37b0" stroke-width="1.0"/>
<line x1="630.6" y1="575.5" x2="593.0" y2="579.1" stroke="#1f37b0" stroke-width="1.4"/>
<line x1="630.6" y1="575.5" x2="599.5" y2="589.5" stroke="#1f37b0" stroke-width="1.1"/>
<line x1="630.6" y1="575.5" x2="605.4" y2="590.1" stroke="#1f37b0" stroke-width="1.0"/>
<line x1="630.6" y1="575.5" x2="609.6" y2="601.4" stroke="#1f37b0" stroke-width="1.1"/>
<line x1="630.6" y1="575.5" x2="626.2" y2="607.9" stroke="#1f37b0" stroke-width="1.4"/>
<line x1="630.6" y1="575.5" x2="631.5" y2="545.6" stroke="#1f37b0" stroke-width="1.1"/>
<line x1="630.6" y1="575.5" x2="644.0" y2="550.9" stroke="#1f37b0" stroke-width="1.1"/>
<line x1="630.6" y1="575.5" x2="655.9" y2="556.9" stroke="#1f37b0" stroke-width="1.1"/>
<line x1="630.6" y1="575.5" x2="655.3" y2="564.0" stroke="#1f37b0" stroke-width="1.0"/>
<line x1="630.6" y1="575.5" x2="660.6" y2="566.4" stroke="#1f37b0" stroke-width="1.0"/>
<line x1="630.6" y1="575.5" x2="661.2" y2="569.3" stroke="#1f37b0" stroke-width="1.0"/>
<line x1="630.6" y1="575.5" x2="661.8" y2="572.3" stroke="#1f37b0" stroke-width="1.3"/>
<line x1="630.6" y1="575.5" x2="661.8" y2="573.5" stroke="#1f37b0" stroke-width="1.2"/>
<line x1="630.6" y1="575.5" x2="654.7" y2="594.3" stroke="#1f37b0" stroke-width="1.1"/>
<line x1="630.6" y1="575.5" x2="647.6" y2="600.2" stroke="#1f37b0" stroke-width="1.1"/>
<circle cx="630.6" cy="575.5" r="1.3" fill="#1f37b0"/>
<circle cx="593.1" cy="579.1" r="1.8" fill="#ee0a0a" stroke="#4a0808" stroke-width="0.55"/>
</g>
<path d="M600.20 511.50L593.60 517.10L600.00 522.10" fill="#fff" stroke="#222" stroke-width="0.8" stroke-linejoin="round"/>
<rect x="603.90" y="507.60" width="3.6" height="2.2" fill="#333" stroke="#222" stroke-width="0.4"/>
<rect x="603.90" y="523.70" width="3.4" height="1.9" fill="#333" stroke="#222" stroke-width="0.4"/>
<ellipse cx="606.2" cy="516.8" rx="8.1" ry="7.5" fill="#fff" stroke="#222" stroke-width="0.9"/>
<text class="t" x="620.6" y="518.6999999999999" textLength="19.4" lengthAdjust="spacingAndGlyphs" style="font-size:5.6px">Azimuth</text>
<rect x="612.3" y="633.2" width="53.90000000000009" height="35.09999999999991" fill="#fff" stroke="none"/>
<path d="M612.3 637H666.2" stroke="#d8d4ce" stroke-width="0.7"/>
<path d="M612.3 647.2H666.2" stroke="#d8d4ce" stroke-width="0.7"/>
<path d="M612.3 658H666.2" stroke="#d8d4ce" stroke-width="0.7"/>
<rect x="614.50" y="633.6" width="6.02" height="34.70" fill="#10309c" stroke="#0a0a30" stroke-width="0.6"/>
<rect x="620.52" y="633.6" width="6.02" height="34.70" fill="#10309c" stroke="#0a0a30" stroke-width="0.6"/>
<rect x="626.54" y="634" width="6.02" height="34.30" fill="#10309c" stroke="#0a0a30" stroke-width="0.6"/>
<rect x="632.56" y="634.3" width="6.02" height="34.00" fill="#10309c" stroke="#0a0a30" stroke-width="0.6"/>
<rect x="638.58" y="635.3" width="6.02" height="33.00" fill="#ff1010" stroke="#0a0a30" stroke-width="0.6"/>
<rect x="644.60" y="636.4" width="6.02" height="31.90" fill="#10309c" stroke="#0a0a30" stroke-width="0.6"/>
<rect x="650.62" y="643" width="6.02" height="25.30" fill="#10309c" stroke="#0a0a30" stroke-width="0.6"/>
<path d="M612.3 633.2H666.2V668.3" stroke="#333" stroke-width="0.9" fill="none"/>
<path d="M612.3 632.8000000000001V668.3H666.6" stroke="#111" stroke-width="1.5" fill="none"/>
<text class="ax" x="607.9" y="639" text-anchor="end">-10</text>
<text class="ax" x="607.9" y="649.2" text-anchor="end">-11</text>
<text class="ax" x="607.9" y="660" text-anchor="end">-12</text>
<text class="ax" x="607.9" y="669.6" text-anchor="end">-13</text>
<text class="ax" x="617.8" y="677.8" text-anchor="middle">63</text>
<text class="ax" x="629.7" y="677.8" text-anchor="middle">250</text>
<text class="ax" x="648" y="677.8" text-anchor="middle">2000</text>
<text class="ax" x="638.4" y="685" text-anchor="middle" textLength="38.9" lengthAdjust="spacingAndGlyphs">Frequency (Hz)</text>
</svg>
<div class="cap" style="top:334.6px">图8 池座区域典型测点的反射声序列</div>
<div class="cap" style="top:702.6px">图9 楼座区域典型测点的反射声序列</div>
</body></html>
